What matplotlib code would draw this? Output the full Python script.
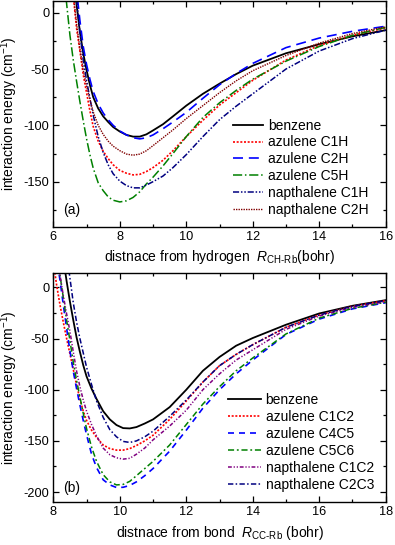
import matplotlib
matplotlib.use("Agg")
import matplotlib.pyplot as plt
from matplotlib.ticker import MultipleLocator

plt.rcParams['font.family'] = ['Liberation Sans', 'DejaVu Sans']
plt.rcParams['mathtext.fontset'] = 'custom'
plt.rcParams['mathtext.rm'] = 'Liberation Sans'
plt.rcParams['mathtext.it'] = 'Liberation Sans:italic'
plt.rcParams['axes.unicode_minus'] = False

# panel (a): distance from hydrogen (bohr) vs interaction energy (cm-1)
x_a = [6.3, 6.4, 6.5, 6.6, 6.7, 6.8, 6.9, 7.0, 7.1, 7.2, 7.35, 7.5, 7.65, 7.8, 8.0,
       8.2, 8.4, 8.6, 8.8, 9.0, 9.3, 9.6, 10.0, 10.5, 11.0, 11.5, 12.0, 13.0, 14.0, 15.0, 16.0]
benzene_a = [110, 80, 55, 30, 7, -17, -36, -51, -64, -75, -85, -92, -97, -101.5, -105.5,
             -108.5, -110, -110, -108, -104.5, -99, -92, -82.5, -72, -63, -54.5, -47, -36, -28, -21, -15.5]
azulene_c1h = [100, 70, 40, 15, -14, -34, -55, -71, -87, -101, -114, -123, -129.5, -135, -140,
               -142.5, -144, -143.5, -141, -137.5, -131, -122.5, -110, -95.5, -82, -71, -60, -42, -29, -20, -13.5]
azulene_c2h = [140, 110, 80, 45, 20, -7, -30, -46, -59, -70, -81, -89, -95, -100, -105,
               -108.5, -111, -112, -111, -108.5, -103, -97, -88.5, -76, -64, -54, -45, -31, -22.5, -16.5, -12]
azulene_c5h = [40, 8, -20, -42, -61, -79, -96, -112, -126, -138, -151, -158, -163.5, -166.5, -168,
               -167, -164, -159, -152, -146, -136, -125, -110, -93, -80, -69, -59, -43, -30, -20, -13]
napth_c1h = [130, 105, 80, 45, 12, -18, -42, -60, -76, -91, -110, -124, -135, -143, -149.5,
             -153.5, -155.5, -155.5, -153, -150, -145, -137.5, -126, -110, -95, -83, -72, -50, -34, -23, -15.5]
napth_c2h = [100, 70, 42, 17, -10, -32, -51, -65, -77, -88, -100, -108, -114, -118.5, -122.5,
             -125.5, -126.5, -125.5, -122.5, -118, -111, -104, -94, -82.5, -71, -60.5, -51.5, -38, -27, -18.5, -12.5]

# panel (b): distance from bond (bohr) vs interaction energy (cm-1)
x_b = [8.0, 8.1, 8.2, 8.3, 8.4, 8.5, 8.6, 8.7, 8.8, 8.9, 9.0, 9.15, 9.3, 9.5, 9.7,
       9.9, 10.1, 10.3, 10.5, 10.75, 11.0, 11.5, 12.0, 12.5, 13.0, 13.5, 14.0, 15.0, 16.0, 17.0, 18.0]
benzene_b = [110, 80, 53, 28, 6, -14, -32, -49, -63, -76, -87, -99, -109, -121, -129,
             -134.5, -137.5, -137.8, -136.5, -133, -129, -117, -100, -81.5, -68, -57, -49.5, -36.5, -25.5, -18, -12.5]
azulene_c1c2 = [25, 2, -17, -34, -50, -65, -80, -95.5, -109, -121, -130, -139.5, -146.5, -154, -157.5,
                -159, -159, -157.5, -154.5, -150, -144.5, -129, -111, -92.5, -76.5, -65.5, -56, -39, -27, -18.5, -13]
azulene_c4c5 = [55, 30, 7, -17, -40, -62, -82, -99, -115, -130, -144, -163, -176, -188, -193,
                -195.5, -195.3, -193.5, -190, -184, -177, -160, -139.5, -118, -100, -84.5, -71, -46, -31, -21, -15]
azulene_c5c6 = [60, 35, 12, -10, -32, -52, -73, -91, -107, -123, -138, -156, -170, -183, -190,
                -193, -192.5, -189.5, -184, -177, -170, -154, -134, -114, -97, -81.5, -69, -45.5, -30, -20.5, -14.5]
napth_c1c2 = [55, 32, 12, -8, -26, -43, -63, -82, -97, -110, -121, -134, -145, -157, -163.5,
              -166.5, -167.8, -167, -163, -157, -149, -135.5, -120, -100, -84.5, -71, -61, -41, -28, -19.5, -14]
napth_c2c3 = [150, 115, 85, 58, 33, 9, -15, -34, -50, -64, -78, -95, -111, -127, -139,
              -146, -150.5, -151.5, -150, -146, -140.5, -126, -110, -92.5, -76.5, -65.5, -56, -39, -27, -18.5, -13]

fig = plt.figure(figsize=(3.95, 5.45), dpi=100)
ax_a = fig.add_axes([0.135, 0.584, 0.8415, 0.415])
ax_b = fig.add_axes([0.135, 0.0783, 0.8415, 0.4213])

styles_a = [
    ("benzene", benzene_a, "black", "-", 1.3),
    ("azulene C1H", azulene_c1h, "#ff0000", (0, (1.2, 1.0)), 1.2),
    ("azulene C2H", azulene_c2h, "#0000ff", (0, (6, 3.5)), 1.2),
    ("azulene C5H", azulene_c5h, "#008000", (0, (6, 1.8, 1, 1.8)), 1.1),
    ("napthalene C1H", napth_c1h, "#000080", (0, (4, 1.2, 1, 1.2, 1, 1.2)), 1.1),
    ("napthalene C2H", napth_c2h, "#800000", (0, (1, 0.8)), 1.0),
]
for name, y, c, ls, lw in styles_a:
    ax_a.plot(x_a, y, color=c, linestyle=ls, lw=lw, label=name)

styles_b = [
    ("benzene", benzene_b, "black", "-", 1.3),
    ("azulene C1C2", azulene_c1c2, "#ff0000", (0, (1.2, 1.0)), 1.2),
    ("azulene C4C5", azulene_c4c5, "#0000ff", (0, (3.6, 3)), 1.2),
    ("azulene C5C6", azulene_c5c6, "#008000", (0, (4, 1.8, 1.2, 1.8)), 1.1),
    ("napthalene C1C2", napth_c1c2, "#800080", (0, (2.5, 1.2, 0.8, 1.2, 0.8, 1.2)), 1.1),
    ("napthalene C2C3", napth_c2c3, "#000080", (0, (3.5, 1.5, 1, 1.5)), 1.1),
]
for name, y, c, ls, lw in styles_b:
    ax_b.plot(x_b, y, color=c, linestyle=ls, lw=lw, label=name)

ax_a.set_xlim(6, 16)
ax_a.set_ylim(-190, 10.8)
ax_b.set_xlim(8, 18)
ax_b.set_ylim(-210, 14.3)

for ax in (ax_a, ax_b):
    ax.xaxis.set_major_locator(MultipleLocator(2))
    ax.xaxis.set_minor_locator(MultipleLocator(1))
    ax.yaxis.set_major_locator(MultipleLocator(50))
    ax.yaxis.set_minor_locator(MultipleLocator(25))
    ax.tick_params(which='both', direction='in', top=True, right=True, labelsize=9.2, pad=3)
    ax.tick_params(which='major', length=4, width=0.9)
    ax.tick_params(which='minor', length=2.5, width=0.9)
    for s in ax.spines.values():
        s.set_linewidth(1.0)
    ax.set_ylabel(r"interaction energy (cm$^{-1}$)", fontsize=10)
    ax.yaxis.set_label_coords(-0.10, 0.5)

ax_a.legend(loc='lower left', bbox_to_anchor=(0.54, 0.045), frameon=False,
            fontsize=10, handlelength=2.2, handletextpad=0.35,
            labelspacing=0.2, borderpad=0, borderaxespad=0)
ax_b.legend(loc='lower left', bbox_to_anchor=(0.526, 0.045), frameon=False,
            fontsize=10, handlelength=2.37, handletextpad=0.33,
            labelspacing=0.22, borderpad=0, borderaxespad=0)

ax_a.set_xlabel(r"distnace from hydrogen  $R_{\mathrm{CH\text{-}Rb}}$(bohr)", fontsize=10)
ax_a.xaxis.set_label_coords(0.5, -0.095)
ax_b.set_xlabel(r"distnace from bond  $R_{\mathrm{CC\text{-}Rb}}$ (bohr)", fontsize=10)
ax_b.xaxis.set_label_coords(0.5, -0.095)

ax_a.text(0.029, 0.074, "(a)", transform=ax_a.transAxes, fontsize=10, va='center')
ax_b.text(0.029, 0.062, "(b)", transform=ax_b.transAxes, fontsize=10, va='center')

fig.savefig("out.png", dpi=100)
